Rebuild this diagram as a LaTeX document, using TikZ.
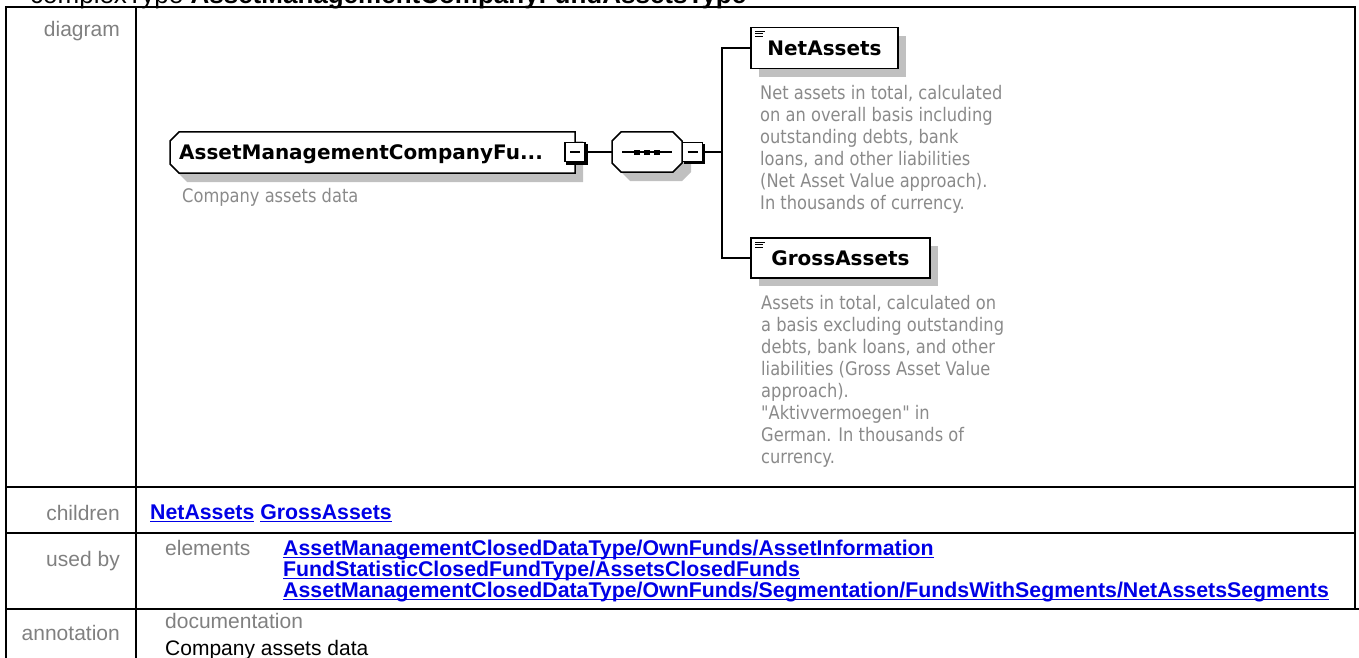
\documentclass[tikz,border=0pt]{standalone}
\usepackage{fontspec}
\setmainfont{Liberation Sans}
\newfontfamily\tahoma[FakeStretch=0.87]{DejaVu Sans}
\newfontfamily\tahomab{DejaVu Sans}
\usetikzlibrary{positioning}

\definecolor{lblgray}{RGB}{128,128,128}
\definecolor{docgray}{RGB}{138,138,138}
\definecolor{shadowgray}{RGB}{192,192,192}
\definecolor{linkblue}{RGB}{0,0,230}

% underlined link text
\newcommand\ulink[1]{\vtop{\hbox{#1}\kern-\prevdepth\kern1.5pt\hrule height 1.7pt}}

\tikzset{
  tabline/.style={line width=2pt},
  tablabel/.style={anchor=base east, inner sep=0pt, text=lblgray, font=\fontsize{21}{24}\selectfont},
  tabnote/.style={anchor=base west, inner sep=0pt, text=lblgray, font=\fontsize{21}{24}\selectfont},
  linktext/.style={anchor=base west, inner sep=0pt, text=linkblue, font=\bfseries\fontsize{21.3}{24}\selectfont},
  elline/.style={line width=1.5pt},
  conn/.style={line width=1.5pt},
  elbox/.style={draw, line width=1.5pt, fill=white, inner sep=0pt, font=\tahomab\bfseries\fontsize{20}{24}\selectfont},
  elname/.style={anchor=base west, inner sep=0pt, font=\tahomab\bfseries\fontsize{20}{24}\selectfont},
  eldoc/.style={anchor=north west, inner sep=0pt, align=left, text=docgray, font=\tahoma\fontsize{18.7}{22}\selectfont},
  minusbox/.style={draw, line width=1.5pt, fill=white, inner sep=0pt, minimum width=20pt, minimum height=19pt,
    path picture={\draw[line width=1.2pt] ([xshift=5pt]path picture bounding box.west) -- ([xshift=-5pt]path picture bounding box.east);}},
}

\begin{document}
\begin{tikzpicture}[x=1pt,y=1pt,yscale=-1,xscale=1]
\useasboundingbox (0,0) rectangle (1359,658);
\clip (0,0) rectangle (1359,658);

% heading, cut at the top
\node[anchor=base west, inner sep=0pt, font=\fontsize{26}{30}\selectfont] (title) at (30,4) {complexType \textbf{AssetManagementCompanyFundAssetsType}};

% table frame
\draw[tabline] (6,658) -- (6,7) -- (1355,7) -- (1355,609);
\draw[tabline] (136,7) -- (136,658);
\draw[tabline] (6,487) -- (1355,487);
\draw[tabline] (6,533) -- (1355,533);
\draw[tabline] (6,609) -- (1359,609);

% row labels
\node[tablabel] (lbldiagram) at (120,37) {diagram};
\node[tablabel] (lblchildren) at (120,520) {children};
\node[tablabel] (lblusedby) at (120,566) {used by};
\node[tablabel] (lblannot) at (120,640) {annotation};

% children row
\node[linktext] (children) at (150,519) {\ulink{NetAssets} \ulink{GrossAssets}};

% used by row
\node[tabnote] (elements) at (165,555) {elements};
\node[linktext] (usedone) at (283,555) {\ulink{AssetManagementClosedDataType/OwnFunds/AssetInformation}};
\node[linktext] (usedtwo) at (283,576) {\ulink{FundStatisticClosedFundType/AssetsClosedFunds}};
\node[linktext] (usedthree) at (283,597) {\ulink{AssetManagementClosedDataType/OwnFunds/Segmentation/FundsWithSegments/NetAssetsSegments}};

% annotation row
\node[tabnote] (doclabel) at (165,628) {documentation};
\node[tabnote, text=black] (doctext) at (165,655) {Company assets data};

%Shape: main element shadow
\fill[shadowgray] (187,141) -- (583,141) -- (583,182) -- (187,182) -- (178,173) -- (178,150) -- cycle;
%Shape: main element
\draw[elline, fill=white] (179,132) -- (575,132) -- (575,173) -- (179,173) -- (170,164) -- (170,141) -- cycle;
\node[elname] (mainname) at (179,159) {AssetManagementCompanyFu...};
\node[anchor=base west, inner sep=0pt, text=docgray, font=\tahoma\fontsize{18.7}{22}\selectfont] (maindoc) at (182,202) {Company assets data};

%Shape: sequence shadow
\fill[shadowgray] (630,141) -- (682,141) -- (691,150) -- (691,172) -- (682,181) -- (630,181) -- (621,172) -- (621,150) -- cycle;
%Shape: sequence
\draw[elline, fill=white] (621,132) -- (673,132) -- (682,141) -- (682,163) -- (673,172) -- (621,172) -- (612,163) -- (612,141) -- cycle;
\node[inner sep=0pt, minimum width=70pt, minimum height=40pt] (seq) at (647,152) {};
\draw[conn] (622,152) -- (672,152);
\fill (634,149.5) rectangle (640,154.5);
\fill (644,149.5) rectangle (650,154.5);
\fill (654,149.5) rectangle (660,154.5);

% minus boxes
\fill (566,144) rectangle (588,165);
\node[minusbox] (mainminus) at (575,152) {};
\fill (684,144) rectangle (705,164);
\node[minusbox] (seqminus) at (692.5,152) {};

% child elements
\fill[shadowgray] (759,36) rectangle (906,77);
\node[elbox, minimum width=147pt, minimum height=41pt] (net) at (824.5,48) {NetAssets};
\draw[line width=0.8pt] (755,31) -- (765,31) (755,33.5) -- (763,33.5) (755,36) -- (763,36);
\node[eldoc] (netdoc) at (760,84.8) {Net assets in total, calculated\\on an overall basis including\\outstanding debts, bank\\loans, and other liabilities\\(Net Asset Value approach).\\In thousands of currency.};

\fill[shadowgray] (759,246) rectangle (938,286);
\node[elbox, minimum width=179pt, minimum height=40pt] (gross) at (840.5,258) {GrossAssets};
\draw[line width=0.8pt] (755,242) -- (765,242) (755,244.5) -- (763,244.5) (755,247) -- (763,247);
\node[eldoc] (grossdoc) at (761,294.8) {Assets in total, calculated on\\a basis excluding outstanding\\debts, bank loans, and other\\liabilities (Gross Asset Value\\approach).\\"Aktivvermoegen" in\\German. In thousands of\\currency.};

% connectors
\coordinate (bus) at (722,152);
\draw[conn] (mainminus.east) -- (seq.west);
\draw[conn] (seqminus.east) -- (bus);
\draw[conn] (net.west) -| (bus) |- (gross.west);

\end{tikzpicture}
\end{document}
